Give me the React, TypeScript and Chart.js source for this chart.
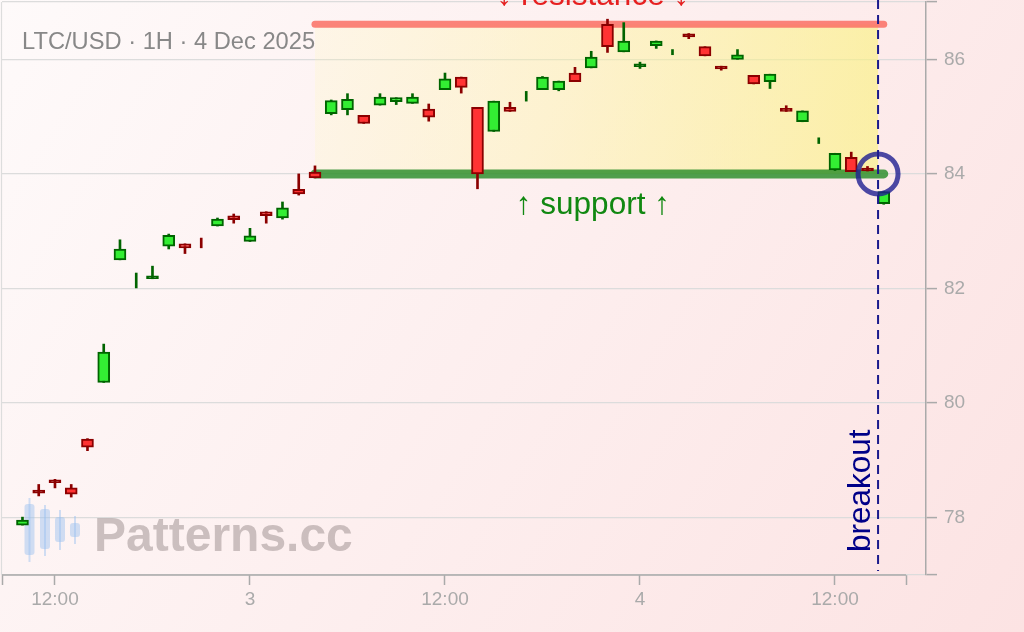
import React, { useEffect, useRef } from 'react';
import { Chart, registerables } from 'chart.js';

Chart.register(...registerables);

// Hours counted from 2 Dec 2025 00:00 (1H candles)
const HOURS = [10, 11, 12, 13, 14, 15, 16, 17, 18, 19, 20, 21, 22, 23, 24, 25, 26, 27, 28, 29, 30, 31, 32, 33, 34, 35, 36, 37, 38, 39, 40, 41, 42, 43, 44, 45, 46, 47, 48, 49, 50, 51, 52, 53, 54, 55, 56, 57, 58, 59, 60, 61, 62, 63];
const OPEN = [77.87, 78.46, 78.66, 78.52, 79.37, 80.36, 82.5, 82.14, 82.17, 82.74, 82.78, 82.802, 83.09, 83.27, 82.82, 83.34, 83.23, 83.73, 84.03, 85.05, 85.12, 85.02, 85.2, 85.26, 85.23, 85.13, 85.47, 85.69, 85.16, 84.74, 85.16, 85.35, 85.47, 85.47, 85.76, 85.85, 86.61, 86.13, 85.87, 86.24, 86.12, 86.42, 86.22, 85.86, 86.0, 85.72, 85.61, 85.12, 84.91, 84.58, 84.07, 84.29, 84.07, 83.48];
const HIGH = [78.01, 78.58, 78.67, 78.58, 79.38, 81.03, 82.85, 82.27, 82.39, 82.95, 82.78, 82.88, 83.23, 83.3, 83.05, 83.34, 83.51, 84.0, 84.14, 85.29, 85.4, 85.02, 85.4, 85.33, 85.4, 85.22, 85.76, 85.69, 85.16, 85.27, 85.25, 85.44, 85.7, 85.62, 85.86, 86.14, 86.7, 86.64, 85.95, 86.32, 86.17, 86.45, 86.22, 85.88, 86.17, 85.72, 85.74, 85.19, 85.1, 84.63, 84.36, 84.38, 84.13, 83.69];
const LOW = [77.87, 78.38, 78.52, 78.36, 79.17, 80.36, 82.5, 82.01, 82.17, 82.69, 82.61, 82.71, 83.09, 83.14, 82.82, 83.14, 83.21, 83.63, 83.93, 85.03, 85.03, 84.88, 85.2, 85.21, 85.23, 84.92, 85.47, 85.41, 83.74, 84.74, 85.09, 85.27, 85.47, 85.45, 85.61, 85.85, 86.12, 86.13, 85.84, 86.19, 86.08, 86.36, 86.06, 85.81, 86.0, 85.57, 85.49, 85.09, 84.91, 84.53, 84.06, 84.04, 84.05, 83.47];
const CLOSE = [77.96, 78.43, 78.61, 78.41, 79.23, 80.89, 82.69, 82.14, 82.22, 82.93, 82.71, 82.8, 83.21, 83.2, 82.92, 83.27, 83.41, 83.65, 83.93, 85.28, 85.3, 84.88, 85.34, 85.33, 85.34, 84.99, 85.66, 85.51, 84.0, 85.27, 85.09, 85.35, 85.69, 85.62, 85.61, 86.04, 86.22, 86.32, 85.9, 86.32, 86.12, 86.39, 86.06, 85.83, 86.08, 85.57, 85.74, 85.09, 85.1, 84.58, 84.36, 84.04, 84.05, 83.69];

const SUPPORT = 84.0;
const RESISTANCE = 86.61;
const ZONE_START = 28;
const ZONE_END = 63;
const BREAKOUT = 62.65;
const LABEL_X = 45.1;

const X_MIN = 8.74;
const X_MAX = 65.6;
const X_AXIS_END = 64.37;
const X_TICKS = [8.74, 12, 24, 36, 48, 60, 64.37];
const X_TICK_LABELS = ['', '12:00', '3', '12:00', '4', '12:00', ''];
const Y_MIN = 77;
const Y_MAX = 87;
const Y_TICKS = [77, 78, 80, 82, 84, 86, 87];
const Y_TICK_LABELS = ['', '78', '80', '82', '84', '86', ''];

const TITLE = 'LTC/USD · 1H · 4 Dec 2025';
const FONT = '"Liberation Sans", Arial, Helvetica, sans-serif';

const GREEN_FILL = '#33ee33';
const GREEN_DARK = '#006400';
const RED_FILL = '#ff3333';
const RED_DARK = '#8b0000';

const isUp = (i: number) => CLOSE[i] >= OPEN[i];
const bodySize = (i: number) => Math.abs(CLOSE[i] - OPEN[i]);

const decor = {
  id: 'decor',
  beforeDraw(chart: any) {
    const { ctx, width, height } = chart;
    ctx.save();
    const g = ctx.createLinearGradient(0, 0, width, height);
    g.addColorStop(0, '#fefafa');
    g.addColorStop(1, '#fce3e3');
    ctx.fillStyle = g;
    ctx.fillRect(0, 0, width, height);
    ctx.restore();
  },
  beforeDatasetsDraw(chart: any) {
    const { ctx, chartArea, scales } = chart;
    const x = scales.x;
    const y = scales.y;
    ctx.save();
    // left faint border
    ctx.strokeStyle = '#dddddd';
    ctx.lineWidth = 1.2;
    ctx.beginPath();
    ctx.moveTo(chartArea.left - 0.5, chartArea.top);
    ctx.lineTo(chartArea.left - 0.5, chartArea.bottom);
    ctx.stroke();

    // zone fill
    const x0 = x.getPixelForValue(ZONE_START);
    const x1 = x.getPixelForValue(BREAKOUT);
    const yTop = y.getPixelForValue(RESISTANCE);
    const yBot = y.getPixelForValue(SUPPORT);
    const g = ctx.createLinearGradient(x0, 0, x1, 0);
    g.addColorStop(0, 'rgba(255,248,170,0.18)');
    g.addColorStop(1, 'rgba(250,242,125,0.62)');
    ctx.fillStyle = g;
    ctx.fillRect(x0, yTop, x1 - x0, yBot - yTop);

    // watermark logo
    ctx.fillStyle = 'rgba(150,190,240,0.45)';
    ctx.strokeStyle = 'rgba(150,190,240,0.45)';
    const logo = [
      [29.5, 498, 562, 504, 555],
      [45, 505, 556, 509, 549],
      [60, 510, 550, 517, 542],
      [75, 516, 544, 523, 537],
    ];
    ctx.lineWidth = 2;
    for (const [cx, wt, wb, bt, bb] of logo) {
      ctx.beginPath();
      ctx.moveTo(cx, wt);
      ctx.lineTo(cx, wb);
      ctx.stroke();
      ctx.beginPath();
      const w = 10;
      const r = 3;
      ctx.roundRect(cx - w / 2, bt, w, bb - bt, r);
      ctx.fill();
    }
    ctx.fillStyle = 'rgba(120,108,108,0.38)';
    ctx.font = `bold 48px ${FONT}`;
    ctx.textAlign = 'left';
    ctx.textBaseline = 'alphabetic';
    ctx.fillText('Patterns.cc', 94, 551);
    ctx.restore();
  },
  afterDatasetsDraw(chart: any) {
    const { ctx, chartArea, scales } = chart;
    const x = scales.x;
    const y = scales.y;
    ctx.save();
    // x axis line
    ctx.strokeStyle = '#aaaaaa';
    ctx.lineWidth = 1.5;
    ctx.beginPath();
    ctx.moveTo(x.getPixelForValue(X_MIN), chartArea.bottom);
    ctx.lineTo(x.getPixelForValue(X_AXIS_END), chartArea.bottom);
    ctx.stroke();

    // breakout dashed line
    const xb = x.getPixelForValue(BREAKOUT);
    ctx.strokeStyle = '#1a1a8c';
    ctx.lineWidth = 2;
    ctx.setLineDash([9, 6]);
    ctx.beginPath();
    ctx.moveTo(xb, 0);
    ctx.lineTo(xb, chartArea.bottom - 4);
    ctx.stroke();
    ctx.setLineDash([]);

    // circle
    const ys = y.getPixelForValue(SUPPORT);
    ctx.strokeStyle = 'rgba(30,30,145,0.8)';
    ctx.lineWidth = 5;
    ctx.beginPath();
    ctx.arc(xb, ys, 20, 0, Math.PI * 2);
    ctx.stroke();

    // labels
    const xl = x.getPixelForValue(LABEL_X);
    ctx.font = `31.5px ${FONT}`;
    ctx.textAlign = 'center';
    ctx.textBaseline = 'alphabetic';
    ctx.fillStyle = '#e62020';
    ctx.fillText('↓ resistance ↓', xl, y.getPixelForValue(RESISTANCE) - 19);
    ctx.fillStyle = '#118811';
    ctx.fillText('↑ support ↑', xl, ys + 40);

    ctx.save();
    ctx.translate(xb - 8, chartArea.bottom - 23);
    ctx.rotate(-Math.PI / 2);
    ctx.textAlign = 'left';
    ctx.fillStyle = '#000088';
    ctx.fillText('breakout', 0, 0);
    ctx.restore();

    // title
    ctx.font = `23.7px ${FONT}`;
    ctx.textAlign = 'left';
    ctx.fillStyle = '#888888';
    ctx.fillText(TITLE, 22, 49);
    ctx.restore();
  },
};

export default function App() {
  const ref = useRef<HTMLCanvasElement | null>(null);
  useEffect(() => {
    if (!ref.current) return;
    const wicks = HOURS.map((h, i) => ({ x: h, y: [LOW[i], HIGH[i]] }));
    const bodies = HOURS.map((h, i) => ({ x: h, y: bodySize(i) < 0.004 ? null : [OPEN[i], CLOSE[i]] }));
    const chart = new Chart(ref.current, {
      type: 'bar',
      data: {
        datasets: [
          {
            type: 'bar',
            data: bodies as any,
            grouped: false,
            order: 0,
            barThickness: 12,
            minBarLength: 3,
            borderWidth: 2,
            borderSkipped: false,
            backgroundColor: (c: any) => {
              const i = c.dataIndex;
              if (bodySize(i) < 0.06) return isUp(i) ? GREEN_DARK : RED_DARK;
              return isUp(i) ? GREEN_FILL : RED_FILL;
            },
            borderColor: (c: any) => (isUp(c.dataIndex) ? GREEN_DARK : RED_DARK),
          } as any,
          {
            type: 'bar',
            data: wicks as any,
            grouped: false,
            order: 1,
            barThickness: 2,
            borderWidth: 0,
            backgroundColor: (c: any) => (isUp(c.dataIndex) ? GREEN_DARK : RED_DARK),
          } as any,
          {
            type: 'line',
            data: [{ x: ZONE_START, y: SUPPORT }, { x: ZONE_END, y: SUPPORT }],
            order: 2,
            borderColor: 'rgba(40,140,40,0.82)',
            borderWidth: 9,
            borderCapStyle: 'round',
            pointRadius: 0,
          } as any,
          {
            type: 'line',
            data: [{ x: ZONE_START, y: RESISTANCE }, { x: ZONE_END, y: RESISTANCE }],
            order: 3,
            borderColor: 'rgba(250,110,100,0.85)',
            borderWidth: 7,
            borderCapStyle: 'round',
            pointRadius: 0,
          } as any,
        ],
      },
      options: {
        responsive: false,
        animation: false,
        devicePixelRatio: 1,
        layout: { padding: { left: 2, top: 2, right: 0, bottom: 0 } },
        plugins: { legend: { display: false }, tooltip: { enabled: false } },
        scales: {
          x: {
            type: 'linear',
            min: X_MIN,
            max: X_MAX,
            offset: false,
            afterBuildTicks: (s: any) => {
              s.ticks = X_TICKS.map((v) => ({ value: v }));
            },
            afterFit: (s: any) => {
              s.height = 57;
              s.paddingLeft = 0;
              s.paddingRight = 0;
            },
            ticks: {
              autoSkip: false,
              maxRotation: 0,
              color: '#aaaaaa',
              padding: 3,
              font: { size: 19, family: FONT },
              callback: (v: any) => {
                const k = X_TICKS.indexOf(Number(v));
                return k >= 0 ? X_TICK_LABELS[k] : '';
              },
            },
            grid: { drawOnChartArea: false, drawTicks: true, tickLength: 10, tickColor: '#aaaaaa', tickWidth: 1.5, offset: false },
            border: { display: false },
          },
          y: {
            type: 'linear',
            position: 'right',
            min: Y_MIN,
            max: Y_MAX,
            afterBuildTicks: (s: any) => {
              s.ticks = Y_TICKS.map((v) => ({ value: v }));
            },
            afterFit: (s: any) => {
              s.width = 98;
              s.paddingTop = 0;
              s.paddingBottom = 0;
            },
            ticks: {
              autoSkip: false,
              color: '#aaaaaa',
              padding: 7,
              font: { size: 19, family: FONT },
              callback: (v: any) => {
                const k = Y_TICKS.indexOf(Number(v));
                return k >= 0 ? Y_TICK_LABELS[k] : '';
              },
            },
            grid: { color: '#dcdcdc', lineWidth: 1.2, tickColor: '#aaaaaa', tickLength: 11, tickWidth: 1.5 },
            border: { color: '#aaaaaa', width: 1.5 },
          },
        },
      },
      plugins: [decor as any],
    });
    return () => chart.destroy();
  }, []);
  return (
    <div style={{ position: 'absolute', left: 0, top: 0, width: 1024, height: 632 }}>
      <canvas ref={ref} width={1024} height={632} style={{ display: 'block' }} />
    </div>
  );
}
